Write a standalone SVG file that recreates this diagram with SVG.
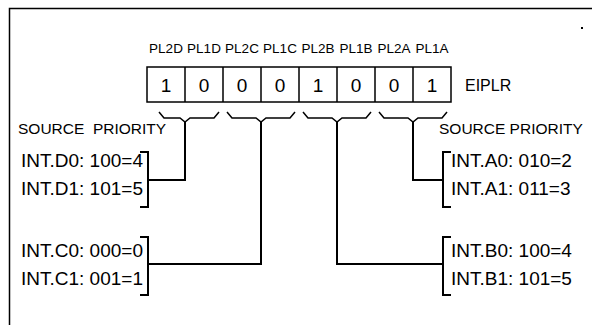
<svg xmlns="http://www.w3.org/2000/svg" width="592" height="325" viewBox="0 0 592 325">
<style>
text{font-family:"Liberation Sans",Arial,sans-serif;fill:#000}
.pl{font-size:13.5px;text-anchor:middle}
.dg{font-size:19px;text-anchor:middle}
.sp{font-size:15.5px}
.it{font-size:19px}
.ln{fill:none;stroke:#000;stroke-width:1.5}
.cn{fill:none;stroke:#000;stroke-width:2}
</style>
<rect width="592" height="325" fill="#fff"/>
<path class="ln" d="M9.5 325V8.5H592"/>
<rect x="581" y="27" width="2" height="2" fill="#000"/>
<g id="register">
<rect class="ln" x="147" y="67" width="304" height="35"/>
<path class="ln" d="M185 67v35M223 67v35M261 67v35M299 67v35M337 67v35M375 67v35M413 67v35"/>
<text class="pl" x="166" y="53">PL2D</text>
<text class="pl" x="204" y="53">PL1D</text>
<text class="pl" x="242" y="53">PL2C</text>
<text class="pl" x="280" y="53">PL1C</text>
<text class="pl" x="318" y="53">PL2B</text>
<text class="pl" x="356" y="53">PL1B</text>
<text class="pl" x="394" y="53">PL2A</text>
<text class="pl" x="432" y="53">PL1A</text>
<text class="dg" x="166" y="92">1</text>
<text class="dg" x="204" y="92">0</text>
<text class="dg" x="242" y="92">0</text>
<text class="dg" x="280" y="92">0</text>
<text class="dg" x="318" y="92">1</text>
<text class="dg" x="356" y="92">0</text>
<text class="dg" x="394" y="92">0</text>
<text class="dg" x="432" y="92">1</text>
<text x="465" y="91" font-size="16">EIPLR</text>
</g>
<g id="sourceD">
<text class="sp" x="18" y="134" xml:space="preserve">SOURCE  PRIORITY</text>
<text class="it" x="21" y="167">INT.D0: 100=4</text>
<text class="it" x="21" y="195">INT.D1: 101=5</text>
</g>
<g id="sourceC">
<text class="it" x="21" y="257">INT.C0: 000=0</text>
<text class="it" x="21" y="285">INT.C1: 001=1</text>
</g>
<g id="sourceA">
<text class="sp" x="439" y="134">SOURCE PRIORITY</text>
<text class="it" x="451" y="167">INT.A0: 010=2</text>
<text class="it" x="451" y="195">INT.A1: 011=3</text>
</g>
<g id="sourceB">
<text class="it" x="451" y="257">INT.B0: 100=4</text>
<text class="it" x="451" y="285">INT.B1: 101=5</text>
</g>
<g id="connectors">
<path class="ln" d="M159 112l5 6h16l5 4l5-4h24l5-6"/>
<path class="ln" d="M227 112l5 6h24l5 4l5-4h24l5-6"/>
<path class="ln" d="M303 112l5 6h24l5 4l5-4h24l5-6"/>
<path class="ln" d="M379 112l5 6h24l5 4l5-4h24l5-6"/>
<path class="cn" d="M185 122V180H148M140 152h8v55h-8"/>
<path class="cn" d="M261 122V264H148M140 237h8v58h-8"/>
<path class="cn" d="M337 122V264H443M451 237h-8v58h8"/>
<path class="cn" d="M413 122V180H443M451 152h-8v55h8"/>
</g>
</svg>
